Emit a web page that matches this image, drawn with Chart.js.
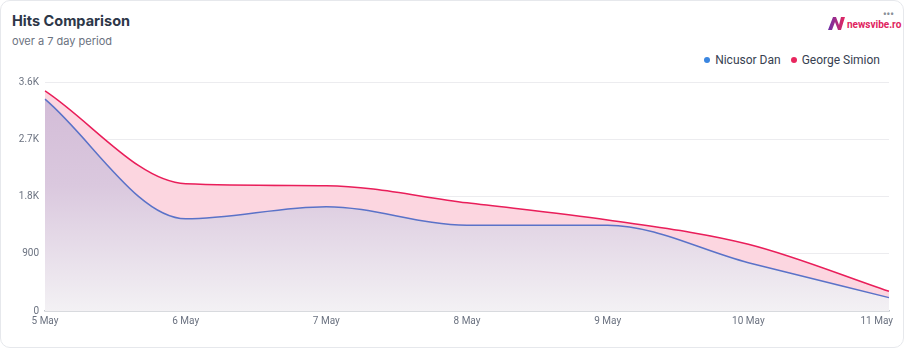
<!DOCTYPE html>
<html>
<head>
<meta charset="utf-8">
<script src="https://cdn.jsdelivr.net/npm/chart.js@4.4.1/dist/chart.umd.min.js"></script>
<style>
  html, body { margin: 0; padding: 0; background: #fff; }
  .card {
    position: relative;
    width: 902px;
    height: 346px;
    border: 1px solid #e6e8ec;
    border-radius: 10px;
    overflow: hidden;
    font-family: Roboto, sans-serif;
  }
  .title { position: absolute; left: 11px; top: 11px; font: 700 14.5px Inter, sans-serif; color: #2d3748; }
  .subtitle { position: absolute; left: 11px; top: 33px; font: 400 11px Inter, sans-serif; color: #6b7280; }
  .logo { position: absolute; left: 827px; top: 15px; display: flex; align-items: flex-end; }
  .logo span { font: 700 10px "Liberation Sans Narrow", Roboto, sans-serif; color: #e0245e; margin-left: 1px; line-height: 10px; }
  .dots { position: absolute; left: 882px; top: 8px; font: 700 10px Roboto, sans-serif; color: #8a8f98; }
  .legend { position: absolute; right: 23px; top: 52px; display: flex; gap: 10px; font: 400 12px Roboto, sans-serif; color: #374151; }
  .legend div { display: flex; align-items: center; }
  .legend i { display: inline-block; width: 6px; height: 6px; border-radius: 50%; margin-right: 5px; }
  canvas { position: absolute; left: 0; top: 0; }
</style>
</head>
<body>
<div class="card">
  <div class="title">Hits Comparison</div>
  <div class="subtitle">over a 7 day period</div>
  <div class="dots">&bull;&bull;&bull;</div>
  <div class="logo">
    <svg width="18" height="14" viewBox="0 0 18 14">
      <defs>
        <linearGradient id="lg" x1="0" y1="0" x2="1" y2="0">
          <stop offset="0" stop-color="#6a2fa8"/>
          <stop offset="1" stop-color="#e8265e"/>
        </linearGradient>
      </defs>
      <path d="M0 14 L5 1 L8 1 L11 9 L13 1 L17 1 L13 14 L10 14 L7 6 L4 14 Z" fill="url(#lg)"/>
    </svg>
    <span>newsvibe.ro</span>
  </div>
  <div class="legend">
    <div><i style="background:#3b86e0"></i>Nicusor Dan</div>
    <div><i style="background:#e8265e"></i>George Simion</div>
  </div>
  <canvas id="chart" width="904" height="348"></canvas>
</div>
<script>
const days = ['5 May', '6 May', '7 May', '8 May', '9 May', '10 May', '11 May']
const nicusorDan = [3330, 1450, 1640, 1350, 1350, 760, 210]
const georgeSimion = [3460, 2000, 1970, 1700, 1430, 1050, 310]
const yTicks = [0, 900, 1800, 2700, 3600]

const fmt = (v) => (v >= 1000 ? v / 1000 + 'K' : String(v))

// x labels: keep the last one inside the card like the original
const xLabels = {
  id: 'xLabels',
  afterDraw(chart) {
    const s = chart.scales.x
    const ctx = chart.ctx
    ctx.save()
    ctx.font = '10px Roboto, sans-serif'
    ctx.fillStyle = '#6b7280'
    ctx.textBaseline = 'middle'
    ctx.textAlign = 'left'
    days.forEach((d, i) => {
      const x = s.getPixelForValue(i)
      const w = ctx.measureText(d).width
      const left = Math.min(x - w / 2, chart.width - 12 - w)
      ctx.fillText(d, left, s.top + 10)
    })
    ctx.restore()
  },
}

const ctx = document.getElementById('chart').getContext('2d')

function purpleFill(context) {
  const area = context.chart.chartArea
  if (!area) return 'rgba(215,195,220,1)'
  const g = context.chart.ctx.createLinearGradient(0, area.top, 0, area.bottom)
  g.addColorStop(0, 'rgb(210,186,214)')
  g.addColorStop(0.45, 'rgb(218,200,222)')
  g.addColorStop(1, 'rgb(243,241,244)')
  return g
}

new Chart(ctx, {
  type: 'line',
  data: {
    labels: days,
    datasets: [
      {
        label: 'Nicusor Dan',
        data: nicusorDan,
        borderColor: '#5a72c8',
        borderWidth: 1.5,
        backgroundColor: purpleFill,
        fill: 'origin',
        pointRadius: 0,
        cubicInterpolationMode: 'monotone',
      },
      {
        label: 'George Simion',
        data: georgeSimion,
        borderColor: '#e91e5a',
        borderWidth: 1.5,
        backgroundColor: 'rgb(252,214,224)',
        fill: '-1',
        pointRadius: 0,
        cubicInterpolationMode: 'monotone',
      },
    ],
  },
  options: {
    responsive: false,
    animation: false,
    layout: { padding: { top: 81, right: 16, bottom: 0, left: 0 } },
    plugins: {
      legend: { display: false },
      tooltip: { enabled: false },
    },
    scales: {
      x: {
        grid: { display: false, drawTicks: false },
        border: { display: true, color: '#c3c7ce', width: 1.5 },
        ticks: { display: false },
        afterFit(s) {
          s.height = 38
          s.paddingLeft = 0
          s.paddingRight = 0
        },
      },
      y: {
        min: 0,
        max: 3600,
        afterBuildTicks(s) {
          s.ticks = yTicks.map((v) => ({ value: v }))
        },
        grid: { color: '#ececef', drawTicks: false },
        border: { display: false },
        ticks: {
          padding: 6,
          color: '#6b7280',
          font: { family: 'Roboto', size: 10 },
          callback: (v) => fmt(v),
        },
        afterFit(s) {
          s.width = 44
        },
      },
    },
  },
  plugins: [xLabels],
})
</script>
</body>
</html>
